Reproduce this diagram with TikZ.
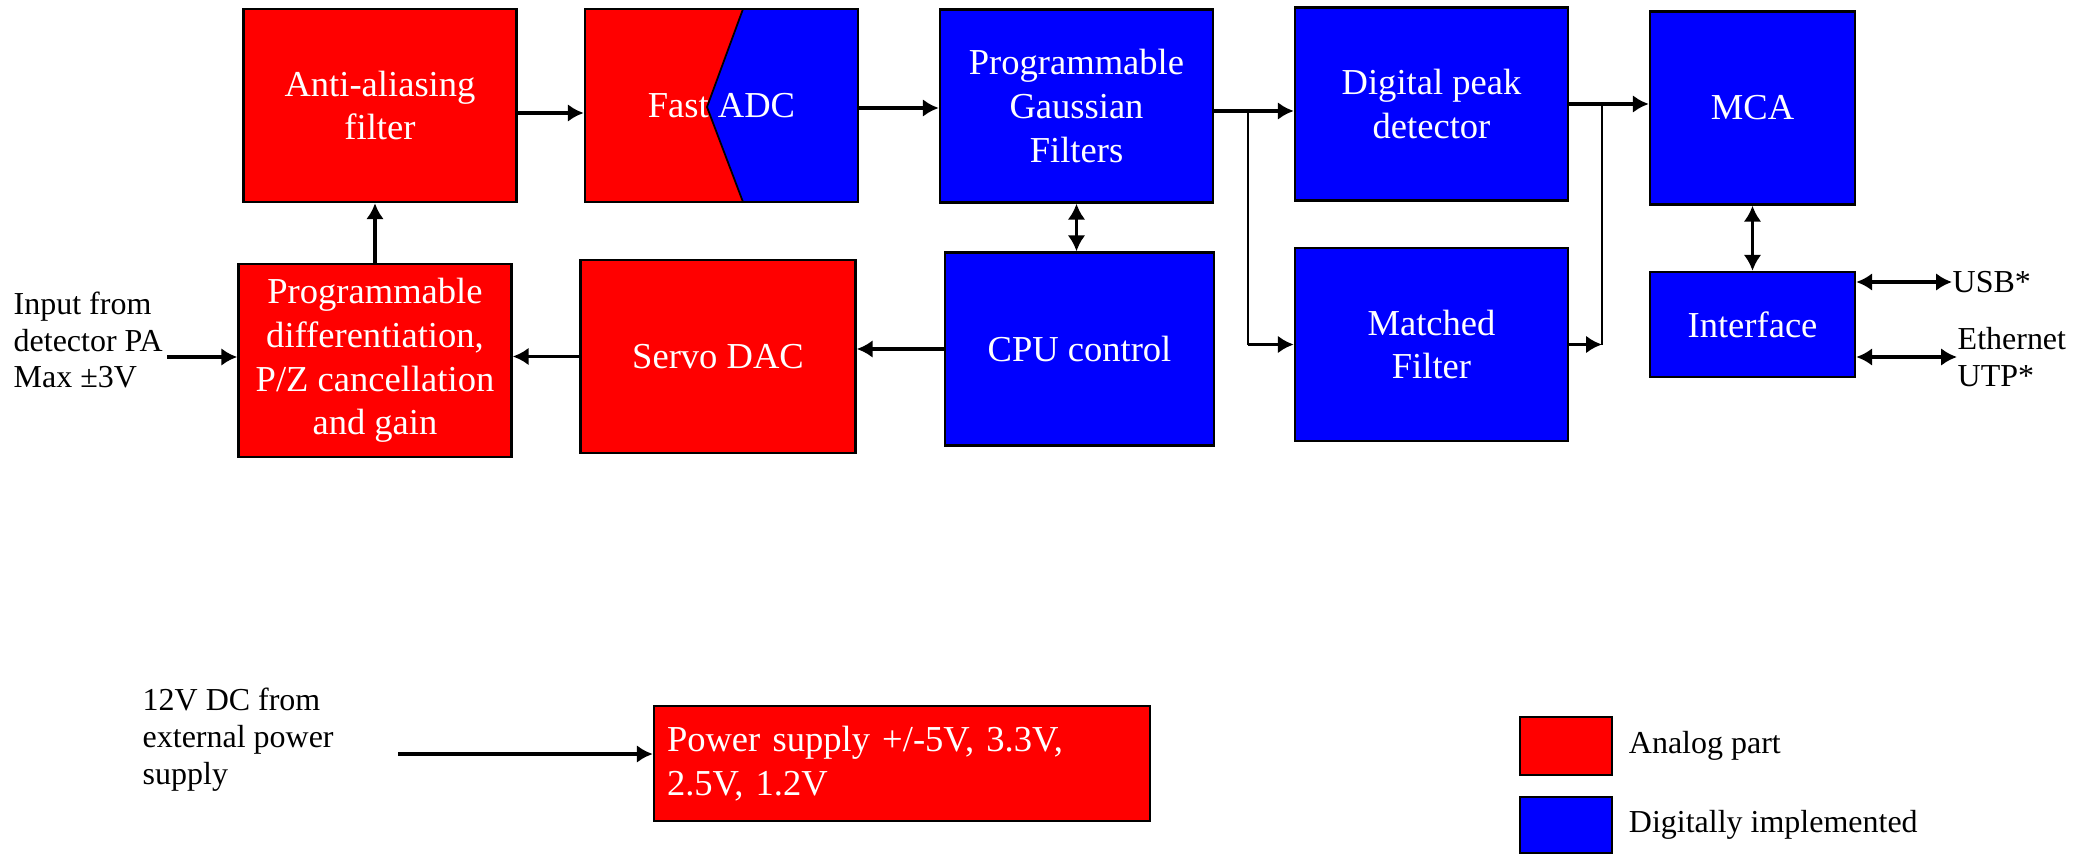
\documentclass[tikz,border=0pt]{standalone}
\usepackage{fontspec}
\setmainfont{Liberation Serif}
\usepackage{tikz}
\usetikzlibrary{
	positioning
	,arrows.meta
}
\tikzset{
	block/.style={
		draw=black
		,line width=0.7pt
		,rectangle
		,inner sep=0mm
		,minimum width=27.3mm
		,minimum height=19.3mm
		,align=center
		,text=white
		,font=\fontsize{10.4}{12.4}\selectfont
	}
	,analog/.style={block, fill=red}
	,digital/.style={block, fill=blue}
	,lbl/.style={
		align=left
		,inner sep=0mm
		,font=\fontsize{9.1}{10.5}\selectfont
	}
	,wire/.style={line width=0.95pt}
	,tap/.style={line width=0.5pt}
}
\tikzset{
	>={Latex[length=4.5pt,width=5pt]}
}

\begin{document}
\begin{tikzpicture}[x=0.1mm, y=-0.1mm]
\useasboundingbox (0,0) rectangle (2085,854);
% top row
\node[analog] (aa) at (380,105.5) {Anti-aliasing\\filter};
\node[analog, path picture={
	\filldraw[fill=blue, draw=black, line width=0.5pt]
		([xshift=2.15mm]path picture bounding box.north)
		-- (path picture bounding box.north east)
		-- (path picture bounding box.south east)
		-- ([xshift=2.15mm]path picture bounding box.south)
		-- ([xshift=-1.45mm,yshift=-0.15mm]path picture bounding box.center) -- cycle;
}] (adc) at (721.5,105.5) {Fast ADC};
\node[digital] (gauss) at (1076.5,106) {Programmable\\Gaussian\\Filters};
\node[digital] (peak) at (1431.5,104) {Digital peak\\detector};
\node[digital, minimum width=20.5mm] (mca) at (1752.5,108) {MCA};
% bottom row
\node[analog] (diff) at (375,360.5) {Programmable\\differentiation,\\P/Z cancellation\\and gain};
\node[analog, minimum width=27.5mm] (servo) at (718,356.5) {Servo DAC};
\node[digital, minimum width=26.9mm] (cpu) at (1079.5,349) {CPU control};
\node[digital] (match) at (1431.5,344.5) {Matched\\Filter};
\node[digital, minimum width=20.5mm, minimum height=10.5mm] (iface) at (1752.5,324.5) {Interface};
% power
\node[analog, minimum width=49.6mm, minimum height=11.5mm, text width=47mm, align=left] (psu) at (902,763.5) {Power supply +/-5V, 3.3V,\\2.5V, 1.2V};
% outside texts
\node[lbl, anchor=west] (inp) at (13,340) {Input from\\detector PA\\Max ±3V};
\node[lbl, anchor=west] (ext) at (142,740) {12V DC from\\external power\\supply};
\node[lbl, anchor=west] (usb) at (1952,282) {USB*};
\node[lbl, anchor=west] (eth) at (1957,357) {Ethernet\\UTP*};
\coordinate (inpin) at (167,357);
\coordinate (extin) at (398,754);
\coordinate (split) at (1248,111);
\coordinate (join) at (1602,104);
% legend
\node[analog, minimum width=9.2mm, minimum height=5.8mm] (legan) at (1566,746) {};
\node[digital, minimum width=9.2mm, minimum height=5.6mm] (legdig) at (1566,825) {};
\node[lbl, right=1.5mm of legan] {Analog part};
\node[lbl, right=1.5mm of legdig] {Digitally implemented};
% signal path
\draw[wire,->] (inpin) -- (inpin -| diff.west);
\draw[wire,->] (diff.north) -- (diff.north |- aa.south);
\draw[wire,->] ([yshift=-0.75mm]aa.east) -- ([yshift=-0.75mm]adc.west);
\draw[wire,->] ([yshift=-0.25mm]adc.east) -- ([yshift=-0.25mm]adc.east -| gauss.west);
\draw[wire,->] (gauss.east |- split) -- (peak.west |- split);
\draw[tap] (split) -- (split |- match.west);
\draw[wire,->] (split |- match.west) -- (match.west);
\draw[wire,->] (peak.east |- join) -- (mca.west |- join);
\draw[wire,->] (match.east) -- (join |- match.east);
\draw[tap] (join |- match.east) -- (join);
\draw[wire,<->] (gauss.south) -- (gauss.south |- cpu.north);
\draw[wire,->] (cpu.west) -- (cpu.west -| servo.east);
\draw[wire,->] (servo.west) -- (servo.west -| diff.east);
\draw[wire,<->] (mca.south) -- (iface.north);
\draw[wire,<->] (iface.east |- usb.west) -- (usb.west);
\draw[wire,<->] (iface.east |- eth.west) -- (eth.west);
\draw[wire,->] (extin) -- (extin -| psu.west);
\end{tikzpicture}
\end{document}
